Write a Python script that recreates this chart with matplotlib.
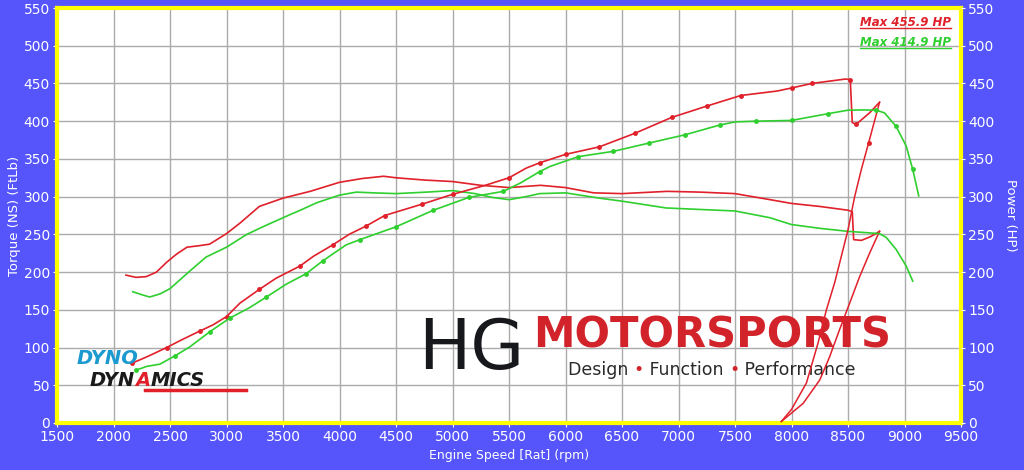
import matplotlib.pyplot as plt
from matplotlib.lines import Line2D

# red run: torque (ft-lb) and power (hp) vs engine speed
red_tq_rpm = [2110, 2200, 2290, 2380, 2470, 2560, 2650, 2760, 2850, 3000, 3120, 3290, 3500, 3740,
              4000, 4200, 4390, 4500, 4750, 5000, 5250, 5500, 5780, 6000, 6250, 6500, 6900, 7190,
              7500, 7810, 8000, 8250, 8500, 8538, 8550, 8618, 8700, 8779]
red_tq = [196, 193, 194, 200, 213, 224, 233, 235, 237, 251, 265, 287, 298, 307,
          319, 324, 327, 325, 322, 320, 315, 312, 315, 312, 305, 304, 307, 306,
          304, 296, 291, 287, 282, 280, 243, 242, 247, 254]
# rundown tail of the red torque trace
red_tq_rd_rpm = [8779, 8691, 8603, 8515, 8426, 8338, 8250, 8103, 7910]
red_tq_rd = [254, 225, 194, 159, 124, 88, 57, 26, 2]

red_hp_rpm = [2160, 2300, 2470, 2600, 2766, 2880, 3000, 3120, 3290, 3440, 3650, 3770, 3940, 4085,
              4235, 4400, 4730, 5000, 5290, 5500, 5655, 5775, 6000, 6300, 6615, 6940, 7250, 7550,
              7874, 8000, 8180, 8480, 8520, 8538, 8573, 8691, 8779]
red_hp = [79, 88, 100, 110, 122, 130, 141, 159, 177, 192, 208, 221, 236, 250,
          261, 275, 290, 303, 315, 325, 338, 345, 356, 366, 384, 405, 420, 434,
          440, 444, 450, 455.9, 455, 398, 396, 411, 425]
red_hp_rd_rpm = [8779, 8682, 8618, 8559, 8500, 8441, 8382, 8309, 8235, 8132, 8000, 7910]
red_hp_rd = [425, 371, 336, 300, 256, 221, 186, 150, 106, 53, 18, 2]

# green run
grn_tq_rpm = [2170, 2250, 2320, 2410, 2500, 2590, 2680, 2820, 3000, 3180, 3350, 3560, 3653, 3800,
              4000, 4150, 4300, 4500, 4770, 5000, 5200, 5350, 5500, 5650, 5770, 6000, 6300, 6500,
              6890, 7190, 7500, 7810, 8000, 8250, 8500, 8779, 8838, 8926, 9015, 9073]
grn_tq = [174, 170, 167, 171, 178, 190, 202, 220, 233, 250, 262, 276, 282, 292,
          302, 306, 305, 304, 306, 308, 304, 299, 296, 300, 304, 305, 298, 294,
          285, 283, 281, 272, 263, 258, 254, 251, 246, 230, 208, 188]

grn_hp_rpm = [2200, 2293, 2411, 2544, 2676, 2853, 3029, 3206, 3353, 3529, 3706, 3853, 4058, 4180,
              4500, 4830, 5145, 5450, 5600, 5770, 5863, 6113, 6423, 6739, 7058, 7367, 7500, 7686,
              8000, 8326, 8500, 8636, 8750, 8823, 8926, 9015, 9073, 9126]
grn_hp = [70, 75, 78, 89, 101, 121, 139, 153, 167, 184, 198, 215, 236, 243,
          260, 282, 299, 307, 318, 333, 340, 353, 360, 371, 382, 395, 399, 400,
          401, 410, 414.6, 414.9, 414.6, 411, 393, 367, 336, 301]

max_labels = ['Max 455.9 HP', 'Max 414.9 HP']

bg = '#5555fb'
red = '#e0202a'
green = '#2ecf2e'

fig = plt.figure(figsize=(10.24, 4.70), dpi=100, facecolor=bg)
ax = fig.add_axes([57 / 1024, 1 - 423 / 470, 904 / 1024, 415 / 470])
ax.set_facecolor('white')
ax.set_axisbelow(True)

ax.plot(red_tq_rpm, red_tq, color=red, lw=1.2, zorder=3)
ax.plot(red_tq_rd_rpm, red_tq_rd, color=red, lw=1.1, zorder=3)
ax.plot(grn_tq_rpm, grn_tq, color=green, lw=1.2, zorder=3)
ax.plot(red_hp_rpm, red_hp, color=red, lw=1.2, marker='o', ms=2.5, markevery=0.038, zorder=3)
ax.plot(red_hp_rd_rpm, red_hp_rd, color=red, lw=1.1, marker='o', ms=2.5, markevery=[1], zorder=3)
ax.plot(grn_hp_rpm, grn_hp, color=green, lw=1.2, marker='o', ms=2.5, markevery=0.038, zorder=3)

ax.set_xlim(1500, 9500)
ax.set_ylim(0, 550)
ax.set_xticks(range(1500, 9501, 500))
ax.set_yticks(range(0, 551, 50))
ax.grid(True, color='#ababab', lw=1)
for s in ax.spines.values():
    s.set_color('#ffff00')
    s.set_linewidth(3)
ax.tick_params(colors='white', labelcolor='white', labelsize=10, length=3, pad=2)
ax.set_xlabel('Engine Speed [Rat] (rpm)', color='white', fontsize=9, labelpad=4)
ax.set_ylabel('Torque (NS) (FtLb)', color='white', fontsize=9.5, labelpad=2)

ax2 = ax.twinx()
ax2.set_ylim(0, 550)
ax2.set_yticks(range(0, 551, 50))
for s in ax2.spines.values():
    s.set_visible(False)
ax2.tick_params(colors='white', labelcolor='white', labelsize=10, length=3, pad=2)
ax2.set_ylabel('Power (HP)', color='white', fontsize=9.5, rotation=270, labelpad=16)

# max power notes, underlined
for i, (lab, c) in enumerate(zip(max_labels, [red, green])):
    y = 1 - (22 + 20 * i) / 470
    fig.text(951 / 1024, y, lab, ha='right', va='center', color=c,
             fontsize=8.5, style='italic', weight='bold')
    fig.add_artist(Line2D([860 / 1024, 951 / 1024], [y - 6 / 470] * 2, color=c, lw=1,
                          transform=fig.transFigure))

# HG Motorsports logo (behind the curves)
ax.text((418 - 57) / 904, 1 - (349 - 8) / 415, 'HG', transform=ax.transAxes,
        fontsize=50, color='#16181c', va='center', ha='left', zorder=2)
ax.text((533 - 57) / 904, 1 - (335 - 8) / 415, 'MOTORSPORTS', transform=ax.transAxes,
        fontsize=30, color='#d2232a', weight='bold', va='center', ha='left', zorder=2)
t = ax.text((568 - 57) / 904, 1 - (370 - 8) / 415, 'Design ', transform=ax.transAxes,
            fontsize=12.5, color='#2a2a2a', va='center', ha='left', zorder=2)
for piece, c in [('\u2022', '#d2232a'), (' Function ', '#2a2a2a'),
                 ('\u2022', '#d2232a'), (' Performance', '#2a2a2a')]:
    t = ax.annotate(piece, xy=(1, 0), xycoords=t, va='bottom', ha='left',
                    fontsize=12.5, color=c, zorder=2)

# Dyno Dynamics logo (over the curves)
ax.text((77 - 57) / 904, 1 - (359 - 8) / 415, 'DYNO', transform=ax.transAxes,
        fontsize=14, color='#1b9ad0', weight='bold', style='italic', va='center',
        ha='left', zorder=6)
d = ax.text((90 - 57) / 904, 1 - (380 - 8) / 415, 'DYN', transform=ax.transAxes,
            fontsize=14, color='#1a1a1a', weight='bold', style='italic', va='center',
            ha='left', zorder=6)
d = ax.annotate('A', xy=(1, 0), xycoords=d, va='bottom', ha='left', fontsize=14,
                color='#e0202a', weight='bold', style='italic', zorder=6)
ax.annotate('MICS', xy=(1, 0), xycoords=d, va='bottom', ha='left', fontsize=14,
            color='#1a1a1a', weight='bold', style='italic', zorder=6)
fig.add_artist(Line2D([145 / 1024, 246 / 1024], [1 - 390 / 470] * 2, color='#e0202a', lw=2.5,
                      transform=fig.transFigure, zorder=6))

fig.savefig('out.png', dpi=100, facecolor=bg)
